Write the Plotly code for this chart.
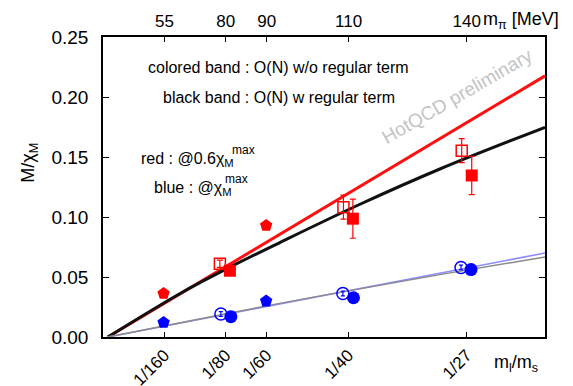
import plotly.graph_objects as go

# ---- data ----
tick_vals = [1/160, 1/80, 1/60, 1/40, 1/27]
tick_text = ["1/160", "1/80", "1/60", "1/40", "1/27"]
mpi_text = ["55", "80", "90", "110", "140"]

# red: @0.6 chi_max
red_pent_x = [0.00617, 0.01661]
red_pent_y = [0.0363, 0.0930]
red_open_x = [0.01190, 0.02448, 0.03652]
red_open_y = [0.0610, 0.1082, 0.1553]
red_open_err = [0.0030, 0.0100, 0.0100]
red_fill_x = [0.01292, 0.02544, 0.03754]
red_fill_y = [0.0552, 0.0986, 0.1346]
red_fill_err = [0.0030, 0.0163, 0.0160]

# blue: @chi_max
blue_pent_x = [0.00617, 0.01661]
blue_pent_y = [0.0120, 0.0299]
blue_open_x = [0.01200, 0.02442, 0.03645]
blue_open_y = [0.0191, 0.0363, 0.0579]
blue_open_err = [0.0020, 0.0020, 0.0020]
blue_fill_x = [0.01302, 0.02550, 0.03747]
blue_fill_y = [0.0169, 0.0327, 0.0562]

# bands
red_band_x = [0.0005, 0.045]
red_band_y = [0.0, 0.2176]
black_band_x = [0.0005, 0.00786, 0.0130, 0.0180, 0.0260, 0.0343, 0.045]
black_band_y = [0.0, 0.0363, 0.0585, 0.0787, 0.1100, 0.1400, 0.1747]
blue_band_x = [0.0005, 0.045]
blue_band_y = [0.0, 0.0700]
gray_band_x = [0.0005, 0.0180, 0.0343, 0.045]
gray_band_y = [0.0, 0.0280, 0.0520, 0.0667]

FONT = "Liberation Sans, Arial, sans-serif"

fig = go.Figure()

fig.add_trace(go.Scatter(x=red_band_x, y=red_band_y, mode="lines",
                         line=dict(color="#ff1010", width=3)))
fig.add_trace(go.Scatter(x=black_band_x, y=black_band_y, mode="lines",
                         line=dict(color="#111111", width=3, shape="spline")))
fig.add_trace(go.Scatter(x=blue_band_x, y=blue_band_y, mode="lines",
                         line=dict(color="#8c8cff", width=1.6)))
fig.add_trace(go.Scatter(x=gray_band_x, y=gray_band_y, mode="lines",
                         line=dict(color="#8a8a8a", width=1.4, shape="spline")))

fig.add_trace(go.Scatter(x=red_pent_x, y=red_pent_y, mode="markers",
                         marker=dict(symbol="pentagon", size=13, color="red")))
fig.add_trace(go.Scatter(x=red_open_x, y=red_open_y, mode="markers",
                         marker=dict(symbol="square-open", size=11, color="red",
                                     line=dict(width=1.5, color="red")),
                         error_y=dict(type="data", array=red_open_err, color="red",
                                      thickness=1.2, width=3)))
fig.add_trace(go.Scatter(x=red_fill_x, y=red_fill_y, mode="markers",
                         marker=dict(symbol="square", size=12, color="red"),
                         error_y=dict(type="data", array=red_fill_err, color="red",
                                      thickness=1.2, width=3)))

fig.add_trace(go.Scatter(x=blue_pent_x, y=blue_pent_y, mode="markers",
                         marker=dict(symbol="pentagon", size=13, color="blue")))
fig.add_trace(go.Scatter(x=blue_open_x, y=blue_open_y, mode="markers",
                         marker=dict(symbol="circle-open", size=12, color="blue",
                                     line=dict(width=1.5, color="blue")),
                         error_y=dict(type="data", array=blue_open_err, color="blue",
                                      thickness=1.2, width=2)))
fig.add_trace(go.Scatter(x=blue_fill_x, y=blue_fill_y, mode="markers",
                         marker=dict(symbol="circle", size=13, color="blue")))

# dummy trace for top axis
fig.add_trace(go.Scatter(x=tick_vals, y=[None]*5, xaxis="x2", mode="markers",
                         hoverinfo="skip", showlegend=False))

annos = [
    dict(x=0.01784, y=0.225, xref="x", yref="y", text="colored band : O(N) w/o regular term",
         showarrow=False, font=dict(size=16)),
    dict(x=0.01794, y=0.200, xref="x", yref="y", text="black band : O(N) w regular term",
         showarrow=False, font=dict(size=16)),
    dict(x=0.0037, y=0.148, xref="x", yref="y", xanchor="left",
         text="red : @0.6χ<sub>M</sub>", showarrow=False, font=dict(size=16)),
    dict(x=0.0129, y=0.156, xref="x", yref="y", xanchor="left",
         text="max", showarrow=False, font=dict(size=12)),
    dict(x=0.0050, y=0.124, xref="x", yref="y", xanchor="left",
         text="blue : @χ<sub>M</sub>", showarrow=False, font=dict(size=16)),
    dict(x=0.0122, y=0.132, xref="x", yref="y", xanchor="left",
         text="max", showarrow=False, font=dict(size=12)),
    dict(x=0.0360, y=0.2005, xref="x", yref="y", text="HotQCD preliminary",
         showarrow=False, textangle=-30, font=dict(size=19, color="#c4c4c4")),
    dict(x=0.856, y=1.10, xref="paper", yref="paper", xanchor="left",
         text="m<sub>π</sub> [MeV]", showarrow=False, font=dict(size=18)),
    dict(x=0.879, y=-0.133, xref="paper", yref="paper", xanchor="left",
         text="m<sub>l</sub>/m<sub>s</sub>", showarrow=False, font=dict(size=18)),
    dict(x=-0.168, y=0.58, xref="paper", yref="paper", xanchor="center", yanchor="middle",
         text="M/χ<sub>M</sub>", textangle=-90, showarrow=False, font=dict(size=18)),
]

# the page body has an 8px margin, so the figure is offset by 8px
fig.update_layout(
    width=565, height=386,
    margin=dict(l=95, r=28, t=29, b=57),
    paper_bgcolor="white", plot_bgcolor="white",
    showlegend=False,
    font=dict(family=FONT, size=18, color="black"),
    annotations=annos,
    xaxis=dict(range=[0, 0.045], tickvals=tick_vals, ticktext=tick_text,
               tickangle=-45, ticks="inside", ticklen=5, tickcolor="black",
               showline=True, linecolor="black", linewidth=1.5, mirror=True,
               showgrid=False, zeroline=False, tickfont=dict(size=17),
               ticklabelstandoff=0, automargin=False),
    xaxis2=dict(range=[0, 0.045], overlaying="x", side="top", tickvals=tick_vals,
                ticktext=mpi_text, ticks="inside", ticklen=5, tickcolor="black",
                showline=False, showgrid=False, zeroline=False, tickfont=dict(size=17),
                ticklabelstandoff=6, automargin=False),
    yaxis=dict(range=[0, 0.25], tickvals=[0, 0.05, 0.10, 0.15, 0.20, 0.25],
               tickformat=".2f", ticks="inside", ticklen=6, tickcolor="black",
               showline=True, linecolor="black", linewidth=1.5, mirror="ticks",
               showgrid=False, zeroline=False, tickfont=dict(size=19),
               ticklabelstandoff=9, automargin=False),
)

fig.write_html("out.html")
